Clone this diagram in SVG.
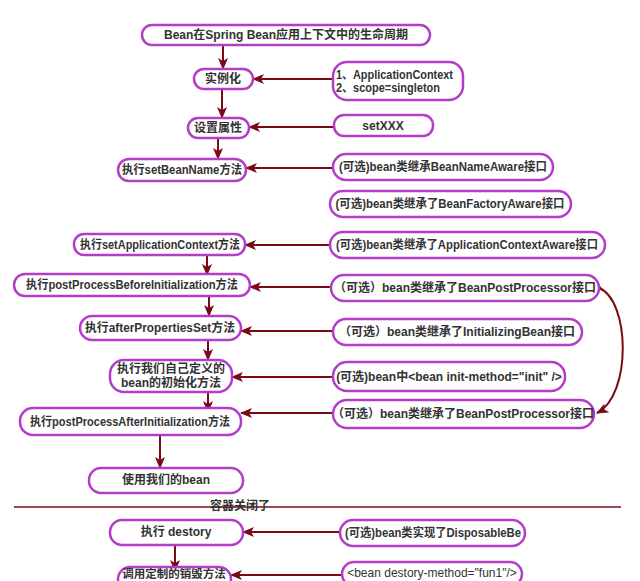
<svg xmlns="http://www.w3.org/2000/svg" width="640" height="581" viewBox="0 0 640 581">
<defs>
<marker id="ah" viewBox="0 0 12 10" refX="11" refY="5" markerWidth="12" markerHeight="10" markerUnits="userSpaceOnUse" orient="auto">
<path d="M0,0 L12,5 L0,10 L3,5 Z" fill="#7a0a14"/>
</marker>
<marker id="dm" viewBox="0 0 8 8" refX="4" refY="4" markerWidth="7" markerHeight="7" markerUnits="userSpaceOnUse" orient="auto">
<path d="M0,4 L4,1 L8,4 L4,7 Z" fill="#7a0a14"/>
</marker>
<style>
.n{fill:#fff;stroke:#b43cc8;stroke-width:2.5}
.t{font-family:"Liberation Sans","Noto Sans CJK SC",sans-serif;font-size:12px;font-weight:bold;fill:#333;text-anchor:middle;dominant-baseline:central}
.tl{text-anchor:start}
.c{fill:none;stroke:#7a0a14;stroke-width:2}
.a{marker-end:url(#ah)}
</style>
</defs>
<rect width="640" height="581" fill="#fff"/>
<g id="connectors">
<line class="c a" x1="223" y1="45" x2="223" y2="69"/>
<line class="c a" x1="222" y1="89" x2="222" y2="118"/>
<line class="c a" x1="218" y1="138" x2="218" y2="159"/>
<line class="c a" x1="207" y1="255" x2="207" y2="275"/>
<line class="c a" x1="209" y1="296" x2="209" y2="316"/>
<line class="c a" x1="208" y1="340" x2="208" y2="360"/>
<line class="c a" x1="208" y1="392" x2="208" y2="412"/>
<line class="c a" x1="160" y1="435" x2="160" y2="468"/>
<line class="c a" x1="175" y1="522" x2="175" y2="571"/>
<line class="c a" x1="333" y1="79" x2="253" y2="79"/>
<line class="c a" x1="334" y1="127" x2="249" y2="127"/>
<line class="c a" x1="333" y1="168" x2="246" y2="168"/>
<line class="c a" x1="330" y1="245" x2="245" y2="245"/>
<line class="c a" x1="331" y1="287" x2="250" y2="287"/>
<line class="c a" x1="333" y1="331" x2="241" y2="331"/>
<line class="c a" x1="333" y1="377" x2="232" y2="377"/>
<line class="c a" x1="333" y1="413" x2="241" y2="413"/>
<line class="c a" x1="340" y1="532" x2="243" y2="532"/>
<line class="c a" x1="342" y1="575" x2="231" y2="575"/>
<path class="c a" d="M599,288 C630,300 632,395 597,413" style="marker-start:url(#dm)"/>
<line x1="14" y1="507" x2="621" y2="507" stroke="#7a0a14" stroke-width="1.5"/>
</g>
<g id="lbl-close"><text class="t" x="240" y="506">容器关闭了</text></g>
<g id="n-title"><rect class="n" x="142" y="25" width="288" height="20" rx="10"/><text class="t" x="286" y="35">Bean在Spring Bean应用上下文中的生命周期</text></g>
<g id="n-inst"><rect class="n" x="194" y="69" width="59" height="20" rx="10"/><text class="t" x="223" y="79">实例化</text></g>
<g id="n-ctx"><rect class="n" x="333" y="62" width="130" height="38" rx="14"/><text class="t tl" x="336" y="75" textLength="117" lengthAdjust="spacingAndGlyphs">1、ApplicationContext</text><text class="t tl" x="336" y="88" textLength="104" lengthAdjust="spacingAndGlyphs">2、scope=singleton</text></g>
<g id="n-prop"><rect class="n" x="188" y="118" width="61" height="20" rx="10"/><text class="t" x="218" y="128">设置属性</text></g>
<g id="n-setxxx"><rect class="n" x="334" y="115" width="99" height="21" rx="10"/><text class="t" x="383" y="126">setXXX</text></g>
<g id="n-setname"><rect class="n" x="118" y="159" width="128" height="22" rx="11"/><text class="t" x="182" y="170" textLength="120" lengthAdjust="spacingAndGlyphs">执行setBeanName方法</text></g>
<g id="n-nameaware"><rect class="n" x="333" y="154" width="220" height="26" rx="13"/><text class="t" x="443" y="167" textLength="208" lengthAdjust="spacingAndGlyphs">(可选)bean类继承BeanNameAware接口</text></g>
<g id="n-factoryaware"><rect class="n" x="330" y="191" width="241" height="26" rx="13"/><text class="t" x="450" y="204" textLength="229" lengthAdjust="spacingAndGlyphs">(可选)bean类继承了BeanFactoryAware接口</text></g>
<g id="n-setctx"><rect class="n" x="74" y="234" width="171" height="21" rx="10"/><text class="t" x="160" y="245" textLength="160" lengthAdjust="spacingAndGlyphs">执行setApplicationContext方法</text></g>
<g id="n-ctxaware"><rect class="n" x="330" y="232" width="275" height="26" rx="13"/><text class="t" x="467" y="245" textLength="262" lengthAdjust="spacingAndGlyphs">(可选)bean类继承了ApplicationContextAware接口</text></g>
<g id="n-before"><rect class="n" x="14" y="274" width="236" height="22" rx="11"/><text class="t" x="132" y="285" textLength="212" lengthAdjust="spacingAndGlyphs">执行postProcessBeforeInitialization方法</text></g>
<g id="n-bpp1"><rect class="n" x="331" y="275" width="268" height="26" rx="13"/><text class="t" x="465" y="288">（可选）bean类继承了BeanPostProcessor接口</text></g>
<g id="n-afterprops"><rect class="n" x="80" y="316" width="161" height="24" rx="12"/><text class="t" x="160" y="328" textLength="150" lengthAdjust="spacingAndGlyphs">执行afterPropertiesSet方法</text></g>
<g id="n-initbean"><rect class="n" x="333" y="319" width="249" height="26" rx="13"/><text class="t" x="457" y="332">（可选）bean类继承了InitializingBean接口</text></g>
<g id="n-init"><rect class="n" x="110" y="360" width="122" height="32" rx="14"/><text class="t" x="171" y="369">执行我们自己定义的</text><text class="t" x="171" y="383">bean的初始化方法</text></g>
<g id="n-initmethod"><rect class="n" x="333" y="362" width="232" height="29" rx="14"/><text class="t" x="449" y="377">(可选)bean中&lt;bean init-method="init" /&gt;</text></g>
<g id="n-after"><rect class="n" x="20" y="408" width="221" height="27" rx="13"/><text class="t" x="130" y="422" textLength="200" lengthAdjust="spacingAndGlyphs">执行postProcessAfterInitialization方法</text></g>
<g id="n-bpp2"><rect class="n" x="333" y="400" width="261" height="28" rx="14"/><text class="t" x="463" y="414">（可选）bean类继承了BeanPostProcessor接口</text></g>
<g id="n-use"><rect class="n" x="89" y="468" width="154" height="25" rx="12"/><text class="t" x="166" y="480">使用我们的bean</text></g>
<g id="n-destroy"><rect class="n" x="110" y="520" width="133" height="25" rx="12"/><text class="t" x="176" y="532">执行 destory</text></g>
<g id="n-disposable"><rect class="n" x="340" y="520" width="185" height="26" rx="13"/><text class="t" x="433" y="533" textLength="176" lengthAdjust="spacingAndGlyphs">(可选)bean类实现了DisposableBe</text></g>
<g id="n-custom"><rect class="n" x="118" y="567" width="113" height="24" rx="12"/><text class="t" x="174" y="574" style="font-size:11.5px">调用定制的销毁方法</text></g>
<g id="n-destroymethod"><rect class="n" x="342" y="562" width="180" height="24" rx="12"/><text class="t" x="432" y="573" style="font-weight:normal">&lt;bean destory-method="fun1"/&gt;</text></g>
</svg>
